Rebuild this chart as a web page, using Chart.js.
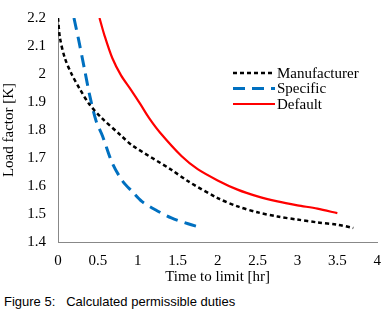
<!DOCTYPE html>
<html>
<head>
<meta charset="utf-8">
<script src="https://cdn.jsdelivr.net/npm/chart.js@4"></script>
<style>
  body { margin: 0; background: #fff; }
  #wrap { position: relative; width: 386px; height: 314px; }
  #caption {
    position: absolute; left: 4px; top: 294px;
    font-family: "Liberation Sans", Arial, sans-serif; font-size: 13px; color: #000;
    white-space: pre;
  }
</style>
</head>
<body>
<div id="wrap">
  <div style="position:absolute;left:0;top:0;width:386px;height:290px"><canvas id="myChart"></canvas></div>
  <div id="caption">Figure 5:   Calculated permissible duties</div>
</div>
<script>
// values
const manufacturerX = [0, 0.025, 0.087, 0.17, 0.27, 0.39, 0.54, 0.79, 0.93, 1.42, 1.63, 2.0, 2.25, 2.5, 2.75, 3.0, 3.25, 3.5, 3.7];
const manufacturerY = [2.2, 2.128, 2.056, 2.0, 1.948, 1.893, 1.845, 1.78, 1.745, 1.658, 1.617, 1.557, 1.527, 1.506, 1.491, 1.48, 1.47, 1.462, 1.45];
const specificX = [0.2, 0.26, 0.33, 0.4, 0.48, 0.56, 0.68, 0.81, 0.93, 1.05, 1.22, 1.42, 1.63, 1.79];
const specificY = [2.2, 2.12, 2.02, 1.92, 1.83, 1.777, 1.682, 1.617, 1.58, 1.545, 1.515, 1.486, 1.465, 1.452];
const defaultX = [0.52, 0.58, 0.68, 0.79, 0.91, 1.03, 1.14, 1.28, 1.55, 1.75, 2.0, 2.25, 2.5, 2.75, 3.0, 3.25, 3.5];
const defaultY = [2.2, 2.14, 2.057, 1.995, 1.945, 1.893, 1.843, 1.79, 1.706, 1.66, 1.62, 1.587, 1.563, 1.545, 1.531, 1.519, 1.503];
const seriesNames = ["Manufacturer", "Specific", "Default"];
const xTicks = [0, 0.5, 1, 1.5, 2, 2.5, 3, 3.5, 4];
const yTicks = [1.4, 1.5, 1.6, 1.7, 1.8, 1.9, 2, 2.1, 2.2];

function pts(xs, ys) {
  return xs.map((x, i) => ({ x: x, y: ys[i] }));
}

const serif = "'Liberation Serif', 'Times New Roman', serif";

// legend drawn inside the plot, like the original
const insideLegend = {
  id: "insideLegend",
  afterDraw(chart) {
    const ctx = chart.ctx;
    const left = 233, top = 73, gap = 15.5;
    chart.data.datasets.forEach((ds, i) => {
      const y = top + i * gap;
      ctx.save();
      ctx.strokeStyle = ds.borderColor;
      ctx.lineWidth = ds.borderWidth;
      ctx.setLineDash(ds.borderDash || []);
      ctx.beginPath();
      ctx.moveTo(left, y);
      ctx.lineTo(left + 42, y);
      ctx.stroke();
      ctx.setLineDash([]);
      ctx.fillStyle = "#000";
      ctx.font = "15px " + serif;
      ctx.textBaseline = "middle";
      ctx.fillText(ds.label, left + 44, y + 1);
      ctx.restore();
    });
  },
};

const ctx = document.getElementById("myChart").getContext("2d");
const myChart = new Chart(ctx, {
  type: "line",
  data: {
    datasets: [
      {
        label: seriesNames[0],
        data: pts(manufacturerX, manufacturerY),
        borderColor: "#000000",
        borderWidth: 2.5,
        borderDash: [4, 3],
        tension: 0.3,
        pointRadius: 0,
      },
      {
        label: seriesNames[1],
        data: pts(specificX, specificY),
        borderColor: "#0070c0",
        borderWidth: 3,
        borderDash: [12, 7],
        tension: 0.3,
        pointRadius: 0,
      },
      {
        label: seriesNames[2],
        data: pts(defaultX, defaultY),
        borderColor: "#ff0000",
        borderWidth: 2.2,
        tension: 0.3,
        pointRadius: 0,
      },
    ],
  },
  options: {
    responsive: true,
    maintainAspectRatio: false,
    animation: false,
    layout: { padding: { top: 18, right: 3, left: 0, bottom: 0 } },
    plugins: { legend: { display: false }, tooltip: { enabled: false } },
    scales: {
      x: {
        type: "linear",
        min: 0,
        max: 4,
        afterBuildTicks: (s) => { s.ticks = xTicks.map((v) => ({ value: v })); },
        grid: { display: false, drawOnChartArea: false, tickLength: 5, color: "#888" },
        border: { color: "#888", width: 1 },
        ticks: {
          color: "#000", font: { family: serif, size: 15 }, padding: 5, maxRotation: 0,
          callback: (v) => String(v),
        },
        title: { display: true, text: "Time to limit [hr]", color: "#000", font: { family: serif, size: 15 }, padding: { top: 0 } },
        afterFit: (s) => { s.height = 48; },
      },
      y: {
        min: 1.4,
        max: 2.2,
        afterBuildTicks: (s) => { s.ticks = yTicks.map((v) => ({ value: v })); },
        grid: { display: false, tickLength: 5, color: "#888" },
        border: { color: "#888", width: 1 },
        ticks: {
          color: "#000", font: { family: serif, size: 15 }, padding: 7,
          callback: (v) => String(v),
        },
        title: { display: true, text: "Load factor [K]", color: "#000", font: { family: serif, size: 15 }, padding: 0 },
        afterFit: (s) => { s.width = 58; },
      },
    },
  },
  plugins: [insideLegend],
});
</script>
</body>
</html>
